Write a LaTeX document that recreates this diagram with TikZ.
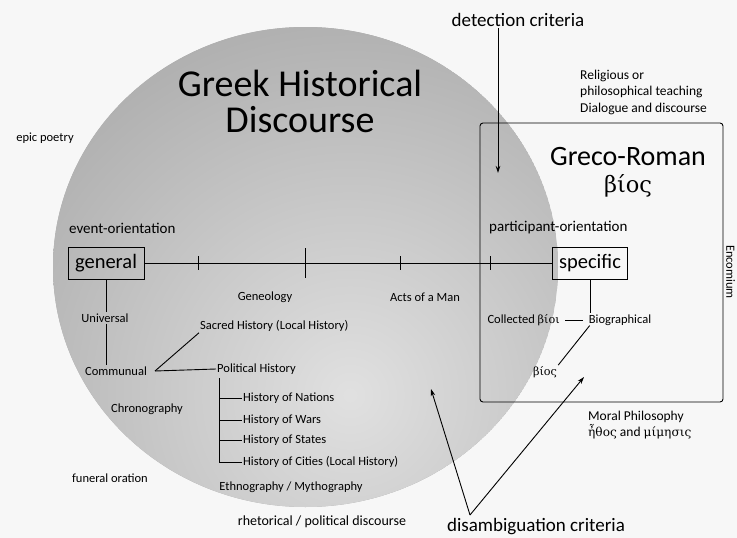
\documentclass[tikz,border=0pt]{standalone}
\usepackage{fontspec}
\setmainfont{Carlito}
\newfontfamily\grkfont[Scale=0.9]{DejaVu Serif}
\newcommand{\grk}[1]{{\grkfont #1}}
\usetikzlibrary{positioning}
\usetikzlibrary{calc}
\usetikzlibrary{arrows.meta}
\tikzset{
	smalllbl/.style={font=\fontsize{12.5}{15}\selectfont, inner sep=1pt},
	sidelbl/.style={font=\fontsize{13.5}{16.5}\selectfont, inner sep=1pt, align=left, anchor=west},
	orientlbl/.style={font=\fontsize{15}{17}\selectfont, inner sep=1pt, anchor=west},
	endbox/.style={draw, line width=0.9pt, font=\fontsize{20.5}{22}\selectfont, inner xsep=7pt, inner ysep=0pt, minimum height=32pt},
	critlbl/.style={font=\fontsize{19}{21}\selectfont, inner sep=1pt},
	critarrow/.style={line width=0.9pt, -{Stealth[length=7pt,width=4.5pt]}},
	branch/.style={line width=0.9pt},
}
\begin{document}
\begin{tikzpicture}[x=1pt, y=-1pt]
	\fill[gray!6] (0,0) rectangle (737,538);
	\useasboundingbox (0,0) rectangle (737,538);

	% The discourse field
	\begin{scope}
		\clip (305.5,267) ellipse (252.5 and 240);
		\fill[gray!68] (305.5,267) ellipse (252.5 and 240);
		\shade[inner color=gray!24, outer color=gray!68] (350,395) circle (440);
	\end{scope}
	\node [font=\fontsize{38}{36}\selectfont, align=center] (title) at (300,101) {Greek Historical\\Discourse};

	% The bios box
	\draw [line width=0.9pt, rounded corners=3pt] (480,123) rectangle (723,402);
	\node [font=\fontsize{28}{30}\selectfont] (greco) at (628,157) {Greco-Roman};
	\node [font=\fontsize{25}{27}\selectfont, below=1pt of greco] (gbios) {\grk{βίος}};
	\node [font=\fontsize{12.5}{14}\selectfont, inner sep=0.3pt, rotate=-90] (encom) at (730.5,272) {Encomium};

	% The axis
	\node [endbox] (general) at (106,263) {general};
	\node [endbox] (specific) at (590,263) {specific};
	\node [orientlbl] (evor) at (68,228) {event-orientation};
	\node [orientlbl] (paror) at (488,228) {participant-orientation};
	\draw [branch] (general) -- (specific);
	\foreach \tx/\th in {198/7, 305/15, 400/7, 490/7}
		\draw [branch] (\tx,263-\th) -- (\tx,263+\th);
	\node [smalllbl] (geneo) at (265,297) {Geneology};
	\node [smalllbl] (acts) at (425,297) {Acts of a Man};

	% Event side
	\node [smalllbl] (univ) at (105,318) {Universal};
	\node [smalllbl] (commu) at (116,371) {Communual};
	\node [smalllbl, anchor=west] (sacred) at (199,326) {Sacred History (Local History)};
	\node [smalllbl, anchor=west] (polit) at (216,369) {Political History};
	\node [smalllbl, anchor=west] (nations) at (242,398) {History of Nations};
	\node [smalllbl, anchor=west] (wars) at (242,420) {History of Wars};
	\node [smalllbl, anchor=west] (states) at (242,440) {History of States};
	\node [smalllbl, anchor=west] (cities) at (242,462) {History of Cities (Local History)};
	\node [smalllbl] (chrono) at (147,409) {Chronography};
	\node [smalllbl] (ethno) at (291,487) {Ethnography / Mythography};
	\coordinate (fork) at (155,371);
	\coordinate (ptrunk) at (219,378);

	% Participant side
	\node [smalllbl] (biog) at (620,320) {Biographical};
	\node [smalllbl, anchor=east] (collect) at (561,320) {Collected \grk{βίοι}};
	\node [smalllbl] (sbios) at (545,372) {\grk{βίος}};

	% Outside the field
	\node [smalllbl] (epic) at (45,138) {epic poetry};
	\node [smalllbl] (funeral) at (110,478) {funeral oration};
	\node [font=\fontsize{14}{16}\selectfont] (rhet) at (322,522) {rhetorical / political discourse};
	\node [sidelbl] (relig) at (579,92) {Religious or\\philosophical teaching\\Dialogue and discourse};
	\node [sidelbl] (moral) at (587,425) {Moral Philosophy\\\grk{ἦθος} and \grk{μίμησις}};

	% Criteria
	\node [critlbl] (detect) at (518,20) {detection criteria};
	\node [critlbl] (disamb) at (536,527) {disambiguation criteria};
	\coordinate (apex) at (470,515);
	\coordinate (hit1) at (431,389);
	\coordinate (hit2) at (584,377);

	% Connections
	\draw [branch] (general.south) -- (general.south |- univ.north);
	\draw [branch] (general.south |- univ.south) -- (general.south |- commu.north);
	\draw [branch] (fork) -- (polit.west);
	\draw [branch] (fork) -- (sacred.south west);
	\draw [branch] (ptrunk) -- (ptrunk |- cities.west) -- (cities.west);
	\foreach \leaf in {nations, wars, states}
		\draw [branch] (ptrunk |- \leaf.west) -- (\leaf.west);
	\draw [branch] (specific.south) -- (biog.north -| specific.south);
	\draw [branch] (collect.east) ++(4,0) -- ($(biog.west)+(-5,0)$);
	\draw [branch] ($(biog.south west)+(2,-1)$) -- (sbios.north east);
	\draw [critarrow] (detect.south -| 498,0) -- (498,173);
	\draw [critarrow] (apex) -- (hit1);
	\draw [critarrow] (apex) -- (hit2);
\end{tikzpicture}
\end{document}
